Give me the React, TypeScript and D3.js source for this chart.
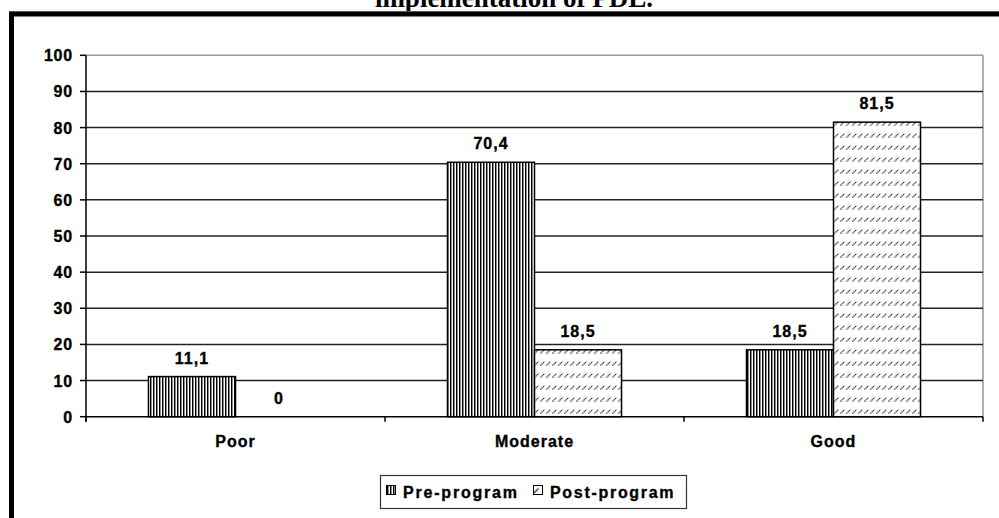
import * as d3 from "d3"

const categories = ["Poor", "Moderate", "Good"]
const seriesNames = ["Pre-program", "Post-program"]
const preProgram = [11.1, 70.4, 18.5]
const postProgram = [0, 18.5, 81.5]
const yTicks = [0, 10, 20, 30, 40, 50, 60, 70, 80, 90, 100]

const width = 999
const height = 518
const plot = { left: 86, right: 983, top: 55.3, bottom: 416.7 }
const font = "'Liberation Sans', Arial, sans-serif"

const fmt = (v: number) => String(v).replace(".", ",")

// shared look of the chart's bold labels (a touch of stroke to thicken them)
const labelStyle = {
  fontFamily: font,
  fontWeight: "bold" as const,
  fontSize: 16,
  stroke: "#000",
  strokeWidth: 0.35,
}

export default function App() {
  const y = d3.scaleLinear().domain([0, 100]).range([plot.bottom, plot.top])
  const x0 = d3.scaleBand<string>().domain(categories).range([plot.left, plot.right])
  const x1 = d3
    .scaleBand<string>()
    .domain(seriesNames)
    .range([0, x0.bandwidth()])
    .paddingOuter(0.718)

  const bars = categories.flatMap((c, i) => [
    { cat: c, s: seriesNames[0], v: preProgram[i], fill: "url(#vstripes)" },
    { cat: c, s: seriesNames[1], v: postProgram[i], fill: "url(#dashdiag)" },
  ])

  return (
    <svg
      width={width}
      height={height}
      style={{ position: "absolute", left: 0, top: 0, background: "#fff" }}
    >
      <defs>
        <pattern id="vstripes" width={3} height={4} patternUnits="userSpaceOnUse">
          <rect width={3} height={4} fill="#fff" />
          <rect x={0} width={1} height={4} fill="#000" />
          <rect x={1} width={1} height={4} fill="#8a8a8a" />
        </pattern>
        <pattern id="dashdiag" width={6} height={12} patternUnits="userSpaceOnUse">
          <rect width={6} height={12} fill="#fff" />
          <path d="M0.5,5.5 L4.5,1.5" stroke="#333" strokeWidth={1.3} strokeDasharray="1.2 0.6" />
        </pattern>
        <pattern id="dashdiagSmall" x={0.5} y={0.5} width={9} height={9} patternUnits="userSpaceOnUse">
          <rect width={9} height={9} fill="#fff" />
          <path d="M2,7 L7,2" stroke="#222" strokeWidth={1.3} />
        </pattern>
      </defs>

      {/* cut title from the page above */}
      <text
        x={514}
        y={7}
        textAnchor="middle"
        fontFamily="'Liberation Serif', 'Times New Roman', serif"
        fontWeight="bold"
        fontSize={27}
      >
        implementation of PDL.
      </text>

      {/* frame */}
      <rect x={9.5} y={11.5} width={1100} height={700} fill="none" stroke="#aaa" strokeWidth={1} />
      <rect x={11.5} y={14} width={1100} height={700} fill="none" stroke="#000" strokeWidth={5} />

      {/* plot border */}
      <line x1={plot.left} x2={plot.right} y1={plot.top} y2={plot.top} stroke="#999" strokeWidth={1.5} />
      <line x1={plot.right} x2={plot.right} y1={plot.top} y2={plot.bottom} stroke="#999" strokeWidth={1.5} />

      {/* gridlines */}
      {yTicks
        .filter((t) => t > 0 && t < 100)
        .map((t) => (
          <line
            key={t}
            x1={plot.left}
            x2={plot.right}
            y1={y(t)}
            y2={y(t)}
            stroke="#222"
            strokeWidth={1.5}
          />
        ))}

      {/* bars */}
      {bars.map((b) => (
        <rect
          key={b.cat + b.s}
          x={(x0(b.cat) ?? 0) + (x1(b.s) ?? 0)}
          y={y(b.v)}
          width={x1.bandwidth()}
          height={plot.bottom - y(b.v)}
          fill={b.fill}
          stroke="#000"
          strokeWidth={b.v > 0 ? 1.5 : 0}
        />
      ))}

      {/* value labels */}
      {bars.map((b) => (
        <text
          key={"l" + b.cat + b.s}
          x={(x0(b.cat) ?? 0) + (x1(b.s) ?? 0) + x1.bandwidth() / 2}
          y={y(b.v) - 13}
          textAnchor="middle"
          letterSpacing={1}
          {...labelStyle}
        >
          {fmt(b.v)}
        </text>
      ))}

      {/* y axis */}
      <line x1={plot.left} x2={plot.left} y1={plot.top} y2={plot.bottom + 5} stroke="#000" strokeWidth={1.5} />
      {yTicks.map((t) => (
        <g key={t}>
          <line x1={plot.left - 6} x2={plot.left} y1={y(t)} y2={y(t)} stroke="#000" strokeWidth={1.5} />
          <text x={73} y={y(t) + 6} textAnchor="end" letterSpacing={0.8} {...labelStyle}>
            {t}
          </text>
        </g>
      ))}

      {/* x axis */}
      <line x1={plot.left} x2={plot.right} y1={plot.bottom} y2={plot.bottom} stroke="#000" strokeWidth={1.5} />
      {[...categories.map((c) => x0(c) ?? 0), plot.right].map((px) => (
        <line key={px} x1={px} x2={px} y1={plot.bottom} y2={plot.bottom + 5} stroke="#000" strokeWidth={1.5} />
      ))}
      {categories.map((c) => (
        <text
          key={c}
          x={(x0(c) ?? 0) + x0.bandwidth() / 2}
          y={447}
          textAnchor="middle"
          letterSpacing={1}
          {...labelStyle}
        >
          {c}
        </text>
      ))}

      {/* legend */}
      <rect x={380.5} y={475.5} width={306} height={33} fill="#fff" stroke="#333" strokeWidth={1.2} />
      <rect x={386.5} y={485.5} width={9} height={9} fill="url(#vstripes)" stroke="#000" />
      <text x={403} y={498} letterSpacing={1.8} {...labelStyle}>
        {seriesNames[0]}
      </text>
      <rect x={533.5} y={485.5} width={9} height={9} fill="url(#dashdiagSmall)" stroke="#000" />
      <text x={550} y={498} letterSpacing={1.7} {...labelStyle}>
        {seriesNames[1]}
      </text>
    </svg>
  )
}
